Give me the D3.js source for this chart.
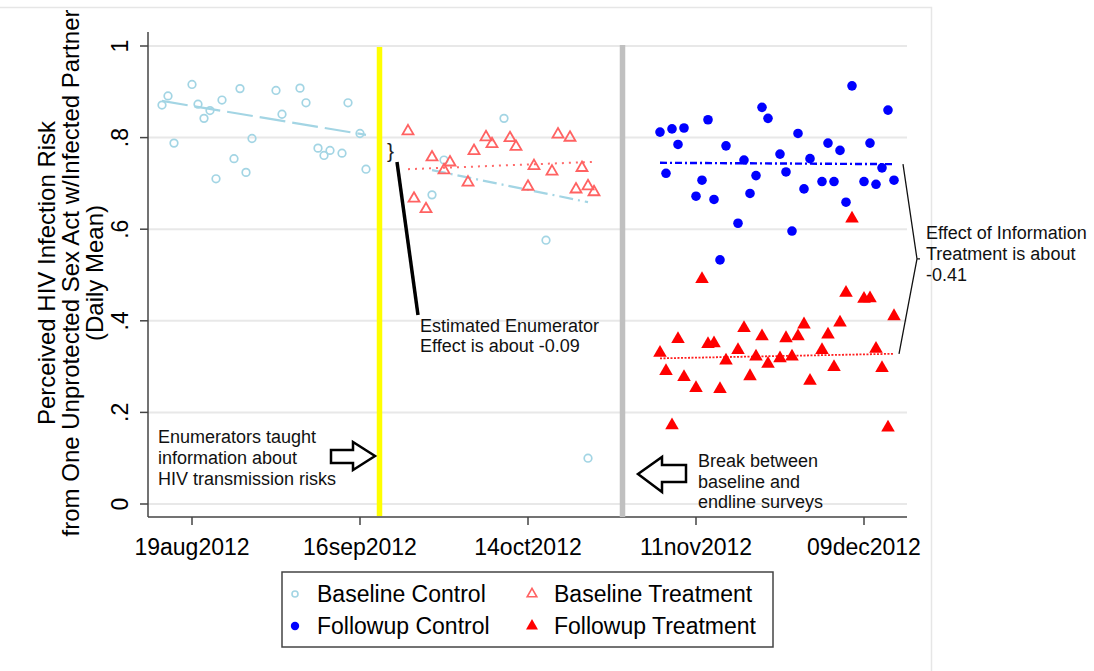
<!DOCTYPE html>
<html>
<head>
<meta charset="utf-8">
<script src="https://cdn.jsdelivr.net/npm/d3@7"></script>
<style>
  body { margin: 0; background: #fff; }
  svg { display: block; font-family: Arial, "Liberation Sans", sans-serif; }
</style>
</head>
<body>
<div id="chart"></div>
<script>
// ------------------------------------------------------------------------ //
// DATA
// ------------------------------------------------------------------------ //

var xTickDates = ["2012-08-19", "2012-09-16", "2012-10-14", "2012-11-11", "2012-12-09"]
var yTickValues = [0, .2, .4, .6, .8, 1]

// Baseline Control (hollow light blue circles)
var baseControlDates = ["2012-08-14","2012-08-15","2012-08-16","2012-08-19","2012-08-20","2012-08-21",
  "2012-08-22","2012-08-23","2012-08-24","2012-08-26","2012-08-27","2012-08-28","2012-08-29",
  "2012-09-02","2012-09-03","2012-09-06","2012-09-07","2012-09-09","2012-09-10","2012-09-11",
  "2012-09-13","2012-09-14","2012-09-16","2012-09-17","2012-09-28","2012-09-30","2012-10-10",
  "2012-10-17","2012-10-24"]
var baseControlValues = [.871,.891,.788,.916,.873,.842,.859,.710,.882,.754,.907,.724,.798,
  .903,.851,.908,.876,.777,.761,.772,.766,.876,.809,.731,.675,.751,.842,.576,.100]

// Baseline Treatment (hollow light red triangles)
var baseTreatDates = ["2012-09-24","2012-09-25","2012-09-27","2012-09-28","2012-09-30","2012-10-01",
  "2012-10-04","2012-10-05","2012-10-07","2012-10-08","2012-10-11","2012-10-12","2012-10-14",
  "2012-10-15","2012-10-18","2012-10-19","2012-10-21","2012-10-22","2012-10-23","2012-10-24","2012-10-25"]
var baseTreatValues = [.814,.667,.644,.757,.729,.746,.702,.771,.801,.786,.799,.780,.693,
  .738,.726,.807,.800,.687,.734,.694,.681]

// Followup (same survey days for both groups)
var followDates = ["2012-11-05","2012-11-06","2012-11-07","2012-11-08","2012-11-09","2012-11-11",
  "2012-11-12","2012-11-13","2012-11-14","2012-11-15","2012-11-16","2012-11-18","2012-11-19",
  "2012-11-20","2012-11-21","2012-11-22","2012-11-23","2012-11-25","2012-11-26","2012-11-27",
  "2012-11-28","2012-11-29","2012-11-30","2012-12-02","2012-12-03","2012-12-04","2012-12-05",
  "2012-12-06","2012-12-07","2012-12-09","2012-12-10","2012-12-11","2012-12-12","2012-12-13","2012-12-14"]
var followControlValues = [.812,.722,.819,.785,.821,.672,.707,.839,.665,.533,.782,.613,.751,
  .678,.717,.866,.842,.764,.725,.596,.809,.688,.754,.704,.788,.704,.772,.659,.913,.704,.788,
  .698,.734,.860,.707]
var followTreatValues = [.330,.290,.172,.360,.277,.253,.491,.349,.351,.251,.313,.336,.384,
  .279,.322,.366,.306,.318,.362,.322,.366,.392,.269,.336,.370,.299,.396,.461,.623,.448,.449,
  .339,.297,.167,.410]

// fitted lines: [start, end]
var fitBaseControlPreDates = ["2012-08-14", "2012-09-17"]
var fitBaseControlPreValues = [.880, .806]
var fitBaseControlPostDates = ["2012-09-28", "2012-10-24"]
var fitBaseControlPostValues = [.729, .659]
var fitBaseTreatDates = ["2012-09-24", "2012-10-25"]
var fitBaseTreatValues = [.731, .747]
var fitFollowControlDates = ["2012-11-05", "2012-12-14"]
var fitFollowControlValues = [.745, .742]
var fitFollowTreatDates = ["2012-11-05", "2012-12-14"]
var fitFollowTreatValues = [.318, .328]

// vertical event lines
var trainingDate = "2012-09-19T06:00Z"
var breakDate = "2012-10-29T18:00Z"

var legendLabels = ["Baseline Control", "Baseline Treatment", "Followup Control", "Followup Treatment"]

// ------------------------------------------------------------------------ //
// SVG AREA
// ------------------------------------------------------------------------ //

var width = 1094, height = 671

var svg = d3.select("#chart")
  .append("svg")
    .attr("width", width)
    .attr("height", height)

var parse = function(s){ return d3.isoParse(s) }
var zip = function(dates, values){ return dates.map(function(d, i){ return {date: parse(d), value: values[i]} }) }

// frame of the original figure
svg.append("path")
  .attr("d", "M0,7.5H931.5V671")
  .style("fill", "none")
  .style("stroke", "#e6e6e6")
  .style("stroke-width", 1.5)

// ------------------------------------------------------------------------ //
// AXIS AND SCALES
// ------------------------------------------------------------------------ //

var x = d3.scaleUtc()
  .domain([parse("2012-08-12"), parse("2012-12-16")])
  .range([150, 906])

var y = d3.scaleLinear()
  .domain([0, 1])
  .range([504, 46])

var plotLeft = 148, plotRight = 907, plotBottom = 517

// grid lines
svg.selectAll(".grid")
  .data(yTickValues)
  .enter()
  .append("line")
    .attr("x1", plotLeft)
    .attr("x2", plotRight)
    .attr("y1", function(d){ return y(d) })
    .attr("y2", function(d){ return y(d) })
    .style("stroke", "#e8e8e8")
    .style("stroke-width", 2)

// Y axis
var yAxis = svg.append("g")
  .attr("transform", "translate(" + plotLeft + ",0)")
yAxis.append("line")
  .attr("y1", 32).attr("y2", plotBottom)
  .style("stroke", "#444").style("stroke-width", 1.5)
yAxis.selectAll(".ytick")
  .data(yTickValues)
  .enter()
  .append("line")
    .attr("x1", -8).attr("x2", 0)
    .attr("y1", function(d){ return y(d) })
    .attr("y2", function(d){ return y(d) })
    .style("stroke", "#444").style("stroke-width", 1.5)
yAxis.selectAll(".ylab")
  .data(yTickValues)
  .enter()
  .append("text")
    .text(function(d){ return d === 0 ? "0" : d === 1 ? "1" : d3.format(".1f")(d).replace(/^0/, "") })
    .attr("transform", function(d){ return "translate(-20," + y(d) + ")rotate(-90)" })
    .style("text-anchor", "middle")
    .style("font-size", "23px")
    .style("fill", "#000")

// Y title
var yTitle = ["Perceived HIV Infection Risk", "from One Unprotected Sex Act w/Infected Partner", "(Daily Mean)"]
svg.selectAll(".ytitle")
  .data(yTitle)
  .enter()
  .append("text")
    .text(function(d){ return d })
    .attr("transform", function(d, i){ return "translate(" + (55 + i * 24) + ",273)rotate(-90)" })
    .style("text-anchor", "middle")
    .style("font-size", "24px")
    .style("fill", "#000")

// X axis
var xAxis = svg.append("g")
  .attr("transform", "translate(0," + plotBottom + ")")
xAxis.append("line")
  .attr("x1", plotLeft).attr("x2", plotRight)
  .style("stroke", "#444").style("stroke-width", 1.5)
xAxis.selectAll(".xtick")
  .data(xTickDates)
  .enter()
  .append("line")
    .attr("x1", function(d){ return x(parse(d)) })
    .attr("x2", function(d){ return x(parse(d)) })
    .attr("y1", 0).attr("y2", 8)
    .style("stroke", "#444").style("stroke-width", 1.5)
xAxis.selectAll(".xlab")
  .data(xTickDates)
  .enter()
  .append("text")
    .text(function(d){ return d3.utcFormat("%d%b%Y")(parse(d)).toLowerCase() })
    .attr("x", function(d){ return x(parse(d)) })
    .attr("y", 38)
    .style("text-anchor", "middle")
    .style("font-size", "23px")
    .style("fill", "#000")

// ------------------------------------------------------------------------ //
// EVENT LINES
// ------------------------------------------------------------------------ //

svg.append("line")
  .attr("x1", x(parse(trainingDate))).attr("x2", x(parse(trainingDate)))
  .attr("y1", 47).attr("y2", 516)
  .style("stroke", "#ffff00").style("stroke-width", 5.5)

svg.append("line")
  .attr("x1", x(parse(breakDate))).attr("x2", x(parse(breakDate)))
  .attr("y1", 45).attr("y2", 517)
  .style("stroke", "#c0c0c0").style("stroke-width", 5.5)

// ------------------------------------------------------------------------ //
// FIT LINES
// ------------------------------------------------------------------------ //

var line = d3.line()
  .x(function(d){ return x(d.date) })
  .y(function(d){ return y(d.value) })

var fits = [
  [zip(fitBaseControlPreDates, fitBaseControlPreValues), "#a3d5e4", "26,7", 2.2],
  [zip(fitBaseControlPostDates, fitBaseControlPostValues), "#a3d5e4", "14,5,2,5", 2.2],
  [zip(fitBaseTreatDates, fitBaseTreatValues), "#ff6a6a", "2,5", 2],
  [zip(fitFollowControlDates, fitFollowControlValues), "#0000ff", "7,3,2,3", 2.4],
  [zip(fitFollowTreatDates, fitFollowTreatValues), "#ff2020", "2,1.5", 1.8]
]
svg.selectAll(".fit")
  .data(fits)
  .enter()
  .append("path")
    .attr("d", function(d){ return line(d[0]) })
    .style("fill", "none")
    .style("stroke", function(d){ return d[1] })
    .style("stroke-dasharray", function(d){ return d[2] })
    .style("stroke-width", function(d){ return d[3] })

// ------------------------------------------------------------------------ //
// SHAPES
// ------------------------------------------------------------------------ //

var hollowTri = d3.symbol().type(d3.symbolTriangle).size(52)
var solidTri = d3.symbol().type(d3.symbolTriangle).size(80)

svg.selectAll(".bc")
  .data(zip(baseControlDates, baseControlValues))
  .enter()
  .append("circle")
    .attr("cx", function(d){ return x(d.date) })
    .attr("cy", function(d){ return y(d.value) })
    .attr("r", 3.8)
    .style("fill", "none")
    .style("stroke", "#a3d5e4")
    .style("stroke-width", 1.7)

svg.selectAll(".bt")
  .data(zip(baseTreatDates, baseTreatValues))
  .enter()
  .append("path")
    .attr("d", hollowTri)
    .attr("transform", function(d){ return "translate(" + x(d.date) + "," + y(d.value) + ")" })
    .style("fill", "none")
    .style("stroke", "#ff6262")
    .style("stroke-width", 1.8)

svg.selectAll(".fc")
  .data(zip(followDates, followControlValues))
  .enter()
  .append("circle")
    .attr("cx", function(d){ return x(d.date) })
    .attr("cy", function(d){ return y(d.value) })
    .attr("r", 4.8)
    .style("fill", "#0000ff")

svg.selectAll(".ft")
  .data(zip(followDates, followTreatValues))
  .enter()
  .append("path")
    .attr("d", solidTri)
    .attr("transform", function(d){ return "translate(" + x(d.date) + "," + y(d.value) + ")" })
    .style("fill", "#ff0000")

// ------------------------------------------------------------------------ //
// ANNOTATIONS
// ------------------------------------------------------------------------ //

var note = function(lines, x0, y0, dy){
  svg.append("text")
    .attr("x", x0).attr("y", y0)
    .style("font-size", "18px")
    .style("fill", "#111")
    .selectAll("tspan")
    .data(lines)
    .enter()
    .append("tspan")
      .attr("x", x0)
      .attr("dy", function(d, i){ return i === 0 ? 0 : dy })
      .text(function(d){ return d })
}

note(["Enumerators taught", "information about", "HIV transmission risks"], 158, 443, 21)
note(["Break between", "baseline and", "endline surveys"], 698, 467, 20.7)
note(["Estimated Enumerator", "Effect is about -0.09"], 420, 332, 20)
note(["Effect of Information", "Treatment is about", "-0.41"], 926, 239, 21.2)

// hollow arrows
svg.append("path")
  .attr("d", "M331,450L353,450L353,442L375,456L353,470L353,463L331,463Z")
  .style("fill", "#fff").style("stroke", "#000").style("stroke-width", 2.5)
svg.append("path")
  .attr("d", "M686,465L662,465L662,457L638,474L662,492L662,482L686,482Z")
  .style("fill", "#fff").style("stroke", "#000").style("stroke-width", 2.5)

// enumerator effect brace and pointer
svg.append("text")
  .text("}")
  .attr("x", 387).attr("y", 158)
  .style("font-size", "21px")
  .style("fill", "#222")
svg.append("line")
  .attr("x1", 397).attr("y1", 162)
  .attr("x2", 418).attr("y2", 315)
  .style("stroke", "#000").style("stroke-width", 3.5)

// information effect brace
var braceX = x(parse(fitFollowControlDates[1])) + 9
var braceTop = y(fitFollowControlValues[1]), braceBot = y(fitFollowTreatValues[1])
var braceMid = (braceTop + braceBot) / 2
svg.append("path")
  .attr("d", "M" + braceX + "," + braceTop + "L" + (braceX + 14) + "," + braceMid +
    "L" + (braceX + 17) + "," + braceMid + "M" + (braceX + 14) + "," + braceMid +
    "L" + (braceX - 4) + "," + braceBot)
  .style("fill", "none").style("stroke", "#111").style("stroke-width", 1.3)

// ------------------------------------------------------------------------ //
// LEGEND
// ------------------------------------------------------------------------ //

var legend = svg.append("g")
legend.append("rect")
  .attr("x", 282).attr("y", 572)
  .attr("width", 491).attr("height", 75)
  .style("fill", "#fff").style("stroke", "#444").style("stroke-width", 1.5)

var legendPos = [[295, 594], [532, 594], [295, 626], [532, 626]]
legend.selectAll(".ltext")
  .data(legendLabels)
  .enter()
  .append("text")
    .text(function(d){ return d })
    .attr("x", function(d, i){ return legendPos[i][0] + 22 })
    .attr("y", function(d, i){ return legendPos[i][1] + 8 })
    .style("font-size", "23px")
    .style("fill", "#000")

legend.append("circle")
  .attr("cx", legendPos[0][0]).attr("cy", legendPos[0][1]).attr("r", 3)
  .style("fill", "none").style("stroke", "#a3d5e4").style("stroke-width", 1.6)
legend.append("path")
  .attr("d", d3.symbol().type(d3.symbolTriangle).size(40))
  .attr("transform", "translate(" + legendPos[1][0] + "," + legendPos[1][1] + ")")
  .style("fill", "none").style("stroke", "#ff6262").style("stroke-width", 1.6)
legend.append("circle")
  .attr("cx", legendPos[2][0]).attr("cy", legendPos[2][1]).attr("r", 4.2)
  .style("fill", "#0000ff")
legend.append("path")
  .attr("d", d3.symbol().type(d3.symbolTriangle).size(62))
  .attr("transform", "translate(" + legendPos[3][0] + "," + legendPos[3][1] + ")")
  .style("fill", "#ff0000")
</script>
</body>
</html>
